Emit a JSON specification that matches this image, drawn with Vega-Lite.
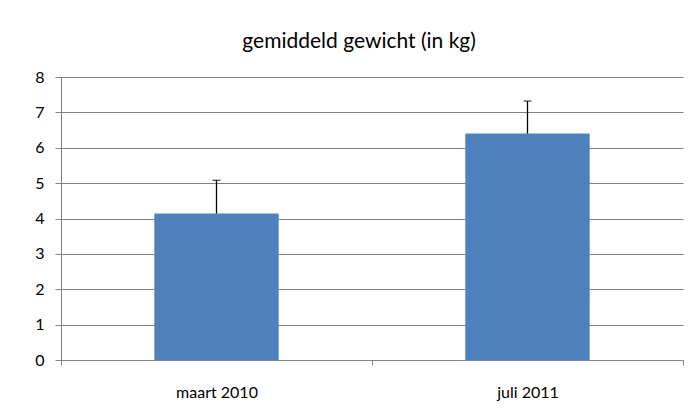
{
  "$schema": "https://vega.github.io/schema/vega-lite/v6.json",
  "width": 622,
  "height": 283,
  "padding": {"left": 34, "top": 31, "right": 11, "bottom": 10},
  "background": "white",
  "title": {"text": "gemiddeld gewicht (in kg)", "font": "Lato", "fontSize": 21, "fontWeight": "normal", "color": "#000000", "offset": 17, "anchor": "middle", "frame": "bounds"},
  "data": {"values": [
    {"periode": "maart 2010", "gewicht": 4.14, "boven": 5.08},
    {"periode": "juli 2011", "gewicht": 6.40, "boven": 7.32}
  ]},
  "encoding": {
    "x": {
      "field": "periode", "type": "nominal", "sort": null,
      "scale": {"paddingInner": 0, "paddingOuter": 0},
      "axis": {"title": null, "labelAngle": 0, "tickBand": "extent", "tickSize": 5, "tickColor": "#868686", "domainColor": "#868686", "labelFont": "Lato", "labelFontSize": 16, "labelColor": "#000000", "labelPadding": 19, "grid": false}
    }
  },
  "layer": [
    {
      "mark": {"type": "bar", "color": "#4F81BD", "width": {"band": 0.4}},
      "encoding": {
        "y": {"field": "gewicht", "type": "quantitative", "scale": {"domain": [0, 8]},
          "axis": {"title": null, "values": [0,1,2,3,4,5,6,7,8], "grid": true, "gridColor": "#808080", "domainColor": "#808080", "tickColor": "#808080", "tickSize": 6, "labelPadding": 11, "labelFont": "Lato", "labelFontSize": 16, "labelColor": "#000000"}}
      }
    },
    {
      "mark": {"type": "rule", "color": "#000000", "strokeWidth": 1.3},
      "encoding": {
        "y": {"field": "gewicht", "type": "quantitative", "scale": {"domain": [0, 8]},
          "axis": {"title": null, "values": [0,1,2,3,4,5,6,7,8], "grid": true, "gridColor": "#808080", "domainColor": "#808080", "tickColor": "#808080", "tickSize": 6, "labelPadding": 11, "labelFont": "Lato", "labelFontSize": 16, "labelColor": "#000000"}},
        "y2": {"field": "boven"}
      }
    },
    {
      "mark": {"type": "tick", "color": "#000000", "thickness": 1.3, "size": 8},
      "encoding": {
        "y": {"field": "boven", "type": "quantitative", "scale": {"domain": [0, 8]},
          "axis": {"title": null, "values": [0,1,2,3,4,5,6,7,8], "grid": true, "gridColor": "#808080", "domainColor": "#808080", "tickColor": "#808080", "tickSize": 6, "labelPadding": 11, "labelFont": "Lato", "labelFontSize": 16, "labelColor": "#000000"}}
      }
    }
  ],
  "config": {"view": {"stroke": null}}
}
